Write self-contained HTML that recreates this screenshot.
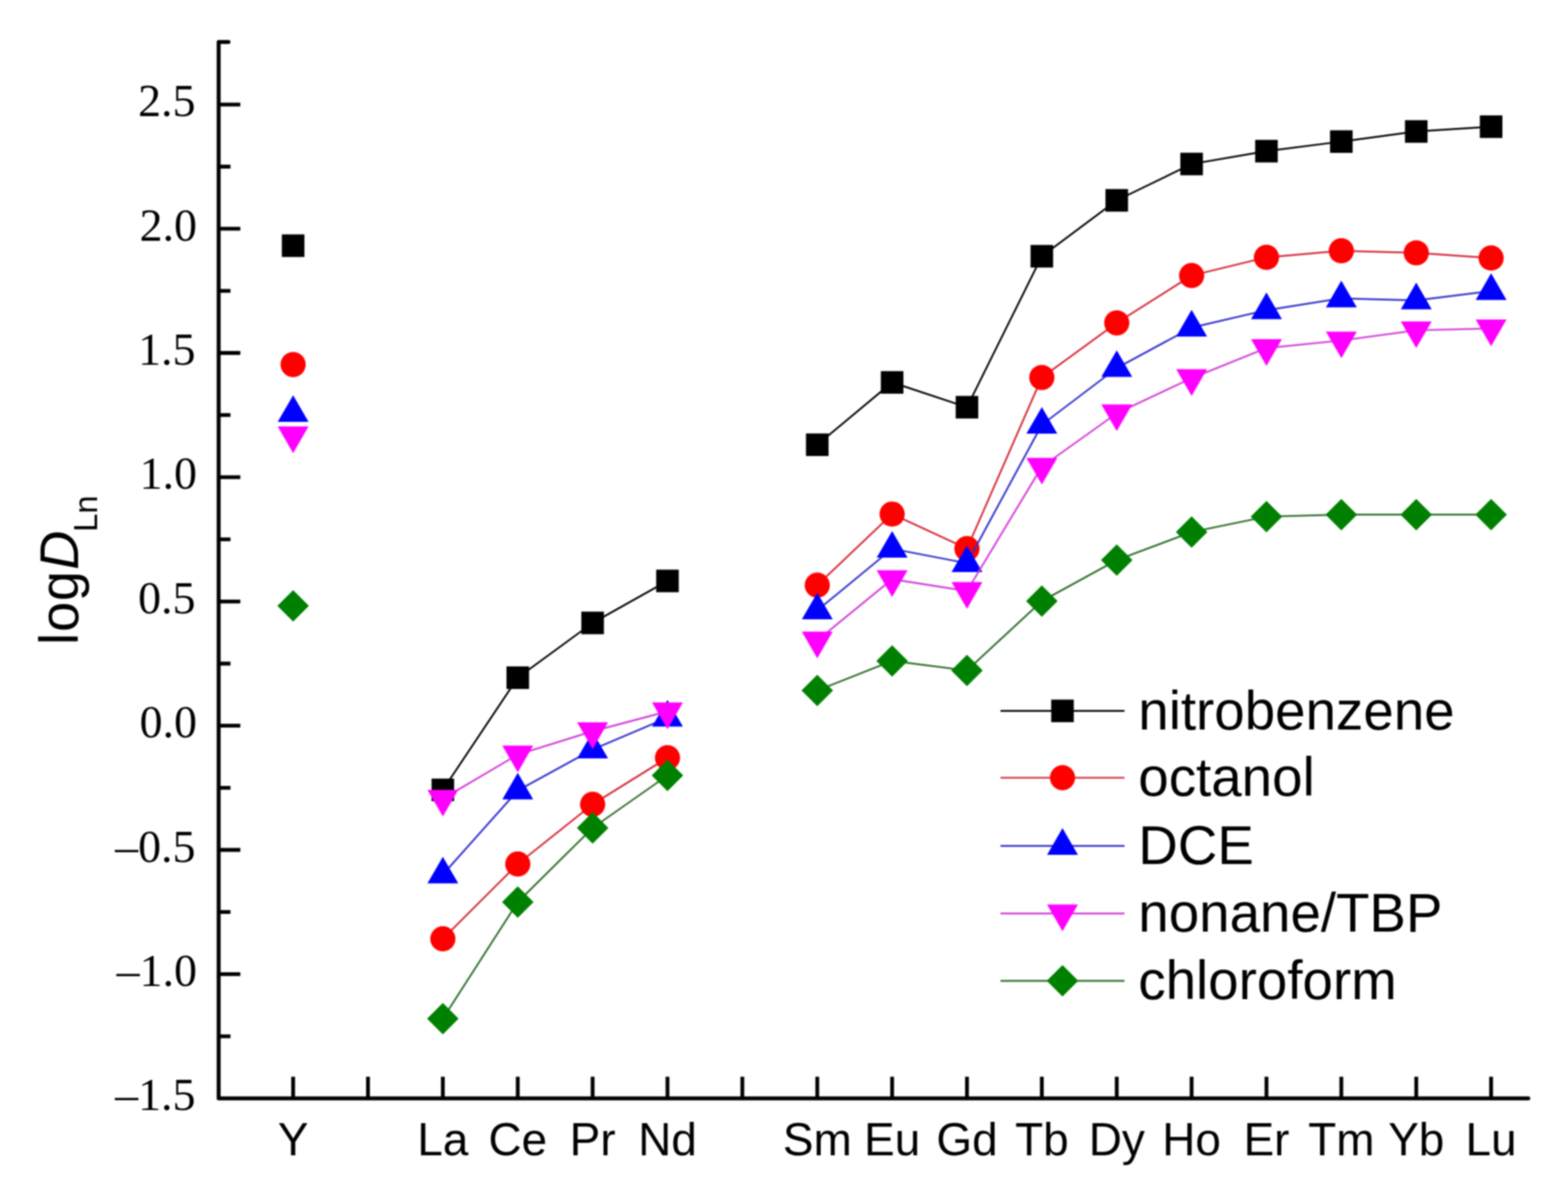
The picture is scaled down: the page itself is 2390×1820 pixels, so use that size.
<!DOCTYPE html>
<html><head><meta charset="utf-8"><title>logD Ln chart</title>
<style>html,body{margin:0;padding:0;background:#fff;}svg{display:block;filter:blur(1px);}</style>
</head><body>
<svg width="2390" height="1820" viewBox="0 0 2390 1820">
<rect width="2390" height="1820" fill="#fff"/>
<path d="M348.3,64 H333.3 V1674.3 H2329.5" fill="none" stroke="#000" stroke-width="6.0" stroke-linejoin="round" stroke-linecap="round"/>
<path d="M333.3,1579.6 h18 M333.3,1484.9 h33 M333.3,1390.2 h18 M333.3,1295.5 h33 M333.3,1200.9 h18 M333.3,1106.2 h33 M333.3,1011.5 h18 M333.3,916.8 h33 M333.3,822.1 h18 M333.3,727.4 h33 M333.3,632.7 h18 M333.3,538.0 h33 M333.3,443.4 h18 M333.3,348.7 h33 M333.3,254.0 h18 M333.3,159.3 h33 M446.8,1674.3 v-33 M560.9,1674.3 v-33 M675.0,1674.3 v-33 M789.2,1674.3 v-33 M903.3,1674.3 v-33 M1017.4,1674.3 v-33 M1131.5,1674.3 v-33 M1245.7,1674.3 v-33 M1359.8,1674.3 v-33 M1473.9,1674.3 v-33 M1588.0,1674.3 v-33 M1702.2,1674.3 v-33 M1816.3,1674.3 v-33 M1930.4,1674.3 v-33 M2044.5,1674.3 v-33 M2158.7,1674.3 v-33 M2272.8,1674.3 v-33" fill="none" stroke="#000" stroke-width="5.8"/>
<g font-family="'Liberation Serif', serif" font-size="70" text-anchor="end" fill="#000"><text x="298.0" y="1692.3">&#8211;1.5</text><text x="300.3" y="1502.9">&#8211;1.0</text><text x="298.0" y="1313.5">&#8211;0.5</text><text x="300.3" y="1124.2">0.0</text><text x="298.0" y="934.8">0.5</text><text x="300.3" y="745.4">1.0</text><text x="298.0" y="556.0">1.5</text><text x="300.3" y="366.7">2.0</text><text x="298.0" y="177.3">2.5</text></g>
<g font-family="'Liberation Sans', sans-serif" font-size="70" text-anchor="middle" fill="#000"><text x="446.8" y="1760.5">Y</text><text x="675.0" y="1760.5">La</text><text x="789.2" y="1760.5">Ce</text><text x="903.3" y="1760.5">Pr</text><text x="1017.4" y="1760.5">Nd</text><text x="1245.7" y="1760.5">Sm</text><text x="1359.8" y="1760.5">Eu</text><text x="1473.9" y="1760.5">Gd</text><text x="1588.0" y="1760.5">Tb</text><text x="1702.2" y="1760.5">Dy</text><text x="1816.3" y="1760.5">Ho</text><text x="1930.4" y="1760.5">Er</text><text x="2044.5" y="1760.5">Tm</text><text x="2158.7" y="1760.5">Yb</text><text x="2272.8" y="1760.5">Lu</text></g>
<text transform="translate(119,983) rotate(-90)" font-family="'Liberation Sans', sans-serif" font-size="82.5" fill="#000">l<tspan dx="1.5">o</tspan><tspan dx="1">g</tspan><tspan dx="2" font-style="italic">D</tspan><tspan font-size="50" dx="-2" dy="29">Ln</tspan></text>
<polyline points="675.0,1204.0 789.2,1033.0 903.3,949.5 1017.4,885.5" fill="none" stroke="#000000" stroke-width="2.7" stroke-linejoin="round"/>
<polyline points="1245.7,677.9 1359.8,582.9 1473.9,620.7 1588.0,390.6 1702.2,305.4 1816.3,250.0 1930.4,230.4 2044.5,215.8 2158.7,200.4 2272.8,193.1" fill="none" stroke="#000000" stroke-width="2.7" stroke-linejoin="round"/>
<rect x="429.6" y="357.3" width="34.4" height="34.4" fill="#000000"/>
<rect x="657.8" y="1186.8" width="34.4" height="34.4" fill="#000000"/>
<rect x="772.0" y="1015.8" width="34.4" height="34.4" fill="#000000"/>
<rect x="886.1" y="932.3" width="34.4" height="34.4" fill="#000000"/>
<rect x="1000.2" y="868.3" width="34.4" height="34.4" fill="#000000"/>
<rect x="1228.5" y="660.7" width="34.4" height="34.4" fill="#000000"/>
<rect x="1342.6" y="565.7" width="34.4" height="34.4" fill="#000000"/>
<rect x="1456.7" y="603.5" width="34.4" height="34.4" fill="#000000"/>
<rect x="1570.8" y="373.4" width="34.4" height="34.4" fill="#000000"/>
<rect x="1685.0" y="288.2" width="34.4" height="34.4" fill="#000000"/>
<rect x="1799.1" y="232.8" width="34.4" height="34.4" fill="#000000"/>
<rect x="1913.2" y="213.2" width="34.4" height="34.4" fill="#000000"/>
<rect x="2027.3" y="198.6" width="34.4" height="34.4" fill="#000000"/>
<rect x="2141.5" y="183.2" width="34.4" height="34.4" fill="#000000"/>
<rect x="2255.6" y="175.9" width="34.4" height="34.4" fill="#000000"/>
<polyline points="675.0,1431.0 789.2,1317.0 903.3,1226.0 1017.4,1155.0" fill="none" stroke="#d52a3a" stroke-width="2.7" stroke-linejoin="round"/>
<polyline points="1245.7,892.0 1359.8,783.6 1473.9,836.3 1588.0,575.4 1702.2,492.2 1816.3,420.0 1930.4,392.3 2044.5,382.3 2158.7,385.4 2272.8,393.3" fill="none" stroke="#d52a3a" stroke-width="2.7" stroke-linejoin="round"/>
<circle cx="446.8" cy="555.7" r="19.2" fill="#ff0000"/>
<circle cx="675.0" cy="1431.0" r="19.2" fill="#ff0000"/>
<circle cx="789.2" cy="1317.0" r="19.2" fill="#ff0000"/>
<circle cx="903.3" cy="1226.0" r="19.2" fill="#ff0000"/>
<circle cx="1017.4" cy="1155.0" r="19.2" fill="#ff0000"/>
<circle cx="1245.7" cy="892.0" r="19.2" fill="#ff0000"/>
<circle cx="1359.8" cy="783.6" r="19.2" fill="#ff0000"/>
<circle cx="1473.9" cy="836.3" r="19.2" fill="#ff0000"/>
<circle cx="1588.0" cy="575.4" r="19.2" fill="#ff0000"/>
<circle cx="1702.2" cy="492.2" r="19.2" fill="#ff0000"/>
<circle cx="1816.3" cy="420.0" r="19.2" fill="#ff0000"/>
<circle cx="1930.4" cy="392.3" r="19.2" fill="#ff0000"/>
<circle cx="2044.5" cy="382.3" r="19.2" fill="#ff0000"/>
<circle cx="2158.7" cy="385.4" r="19.2" fill="#ff0000"/>
<circle cx="2272.8" cy="393.3" r="19.2" fill="#ff0000"/>
<polyline points="675.0,1333.0 789.2,1205.0 903.3,1142.5 1017.4,1094.0" fill="none" stroke="#3232cc" stroke-width="2.7" stroke-linejoin="round"/>
<polyline points="1245.7,930.5 1359.8,836.5 1473.9,858.5 1588.0,647.5 1702.2,561.0 1816.3,499.4 1930.4,472.8 2044.5,454.8 2158.7,457.8 2272.8,443.6" fill="none" stroke="#3232cc" stroke-width="2.7" stroke-linejoin="round"/>
<polygon points="446.8,602.4 470.3,643.1 423.3,643.1" fill="#0000ff"/>
<polygon points="675.0,1305.9 698.5,1346.6 651.5,1346.6" fill="#0000ff"/>
<polygon points="789.2,1177.9 812.7,1218.6 765.7,1218.6" fill="#0000ff"/>
<polygon points="903.3,1115.4 926.8,1156.1 879.8,1156.1" fill="#0000ff"/>
<polygon points="1017.4,1066.9 1040.9,1107.6 993.9,1107.6" fill="#0000ff"/>
<polygon points="1245.7,903.4 1269.2,944.1 1222.2,944.1" fill="#0000ff"/>
<polygon points="1359.8,809.4 1383.3,850.1 1336.3,850.1" fill="#0000ff"/>
<polygon points="1473.9,831.4 1497.4,872.1 1450.4,872.1" fill="#0000ff"/>
<polygon points="1588.0,620.4 1611.5,661.1 1564.5,661.1" fill="#0000ff"/>
<polygon points="1702.2,533.9 1725.7,574.6 1678.7,574.6" fill="#0000ff"/>
<polygon points="1816.3,472.3 1839.8,513.0 1792.8,513.0" fill="#0000ff"/>
<polygon points="1930.4,445.7 1953.9,486.4 1906.9,486.4" fill="#0000ff"/>
<polygon points="2044.5,427.7 2068.1,468.4 2021.0,468.4" fill="#0000ff"/>
<polygon points="2158.7,430.7 2182.2,471.4 2135.2,471.4" fill="#0000ff"/>
<polygon points="2272.8,416.5 2296.3,457.2 2249.3,457.2" fill="#0000ff"/>
<polyline points="675.0,1217.5 789.2,1150.2 903.3,1114.6 1017.4,1084.4" fill="none" stroke="#d23cd8" stroke-width="2.7" stroke-linejoin="round"/>
<polyline points="1245.7,976.3 1359.8,882.9 1473.9,900.9 1588.0,711.5 1702.2,630.0 1816.3,576.4 1930.4,530.6 2044.5,519.0 2158.7,503.5 2272.8,500.6" fill="none" stroke="#d23cd8" stroke-width="2.7" stroke-linejoin="round"/>
<polygon points="446.8,690.8 470.3,650.1 423.3,650.1" fill="#ff00ff"/>
<polygon points="675.0,1244.6 698.5,1203.9 651.5,1203.9" fill="#ff00ff"/>
<polygon points="789.2,1177.3 812.7,1136.6 765.7,1136.6" fill="#ff00ff"/>
<polygon points="903.3,1141.7 926.8,1101.0 879.8,1101.0" fill="#ff00ff"/>
<polygon points="1017.4,1111.5 1040.9,1070.8 993.9,1070.8" fill="#ff00ff"/>
<polygon points="1245.7,1003.4 1269.2,962.7 1222.2,962.7" fill="#ff00ff"/>
<polygon points="1359.8,910.0 1383.3,869.3 1336.3,869.3" fill="#ff00ff"/>
<polygon points="1473.9,928.0 1497.4,887.3 1450.4,887.3" fill="#ff00ff"/>
<polygon points="1588.0,738.6 1611.5,697.9 1564.5,697.9" fill="#ff00ff"/>
<polygon points="1702.2,657.1 1725.7,616.4 1678.7,616.4" fill="#ff00ff"/>
<polygon points="1816.3,603.5 1839.8,562.8 1792.8,562.8" fill="#ff00ff"/>
<polygon points="1930.4,557.7 1953.9,517.0 1906.9,517.0" fill="#ff00ff"/>
<polygon points="2044.5,546.1 2068.1,505.4 2021.0,505.4" fill="#ff00ff"/>
<polygon points="2158.7,530.6 2182.2,489.9 2135.2,489.9" fill="#ff00ff"/>
<polygon points="2272.8,527.7 2296.3,487.0 2249.3,487.0" fill="#ff00ff"/>
<polyline points="675.0,1552.7 789.2,1375.0 903.3,1262.0 1017.4,1182.0" fill="none" stroke="#2a6e2a" stroke-width="2.7" stroke-linejoin="round"/>
<polyline points="1245.7,1052.5 1359.8,1007.4 1473.9,1022.0 1588.0,916.3 1702.2,853.8 1816.3,811.0 1930.4,787.5 2044.5,784.4 2158.7,784.4 2272.8,784.4" fill="none" stroke="#2a6e2a" stroke-width="2.7" stroke-linejoin="round"/>
<polygon points="446.8,899.6 470.8,923.6 446.8,947.6 422.8,923.6" fill="#008000"/>
<polygon points="675.0,1528.7 699.0,1552.7 675.0,1576.7 651.0,1552.7" fill="#008000"/>
<polygon points="789.2,1351.0 813.2,1375.0 789.2,1399.0 765.2,1375.0" fill="#008000"/>
<polygon points="903.3,1238.0 927.3,1262.0 903.3,1286.0 879.3,1262.0" fill="#008000"/>
<polygon points="1017.4,1158.0 1041.4,1182.0 1017.4,1206.0 993.4,1182.0" fill="#008000"/>
<polygon points="1245.7,1028.5 1269.7,1052.5 1245.7,1076.5 1221.7,1052.5" fill="#008000"/>
<polygon points="1359.8,983.4 1383.8,1007.4 1359.8,1031.4 1335.8,1007.4" fill="#008000"/>
<polygon points="1473.9,998.0 1497.9,1022.0 1473.9,1046.0 1449.9,1022.0" fill="#008000"/>
<polygon points="1588.0,892.3 1612.0,916.3 1588.0,940.3 1564.0,916.3" fill="#008000"/>
<polygon points="1702.2,829.8 1726.2,853.8 1702.2,877.8 1678.2,853.8" fill="#008000"/>
<polygon points="1816.3,787.0 1840.3,811.0 1816.3,835.0 1792.3,811.0" fill="#008000"/>
<polygon points="1930.4,763.5 1954.4,787.5 1930.4,811.5 1906.4,787.5" fill="#008000"/>
<polygon points="2044.5,760.4 2068.6,784.4 2044.5,808.4 2020.5,784.4" fill="#008000"/>
<polygon points="2158.7,760.4 2182.7,784.4 2158.7,808.4 2134.7,784.4" fill="#008000"/>
<polygon points="2272.8,760.4 2296.8,784.4 2272.8,808.4 2248.8,784.4" fill="#008000"/>
<line x1="1525" y1="1083.6" x2="1714" y2="1083.6" stroke="#000000" stroke-width="2.7"/>
<rect x="1602.3" y="1066.4" width="34.4" height="34.4" fill="#000000"/>
<text x="1735" y="1111.5" font-family="'Liberation Sans', sans-serif" font-size="83.4" fill="#000">nitrobenzene</text>
<line x1="1525" y1="1185.5" x2="1714" y2="1185.5" stroke="#d52a3a" stroke-width="2.7"/>
<circle cx="1619.5" cy="1185.5" r="19.2" fill="#ff0000"/>
<text x="1735" y="1213.4" font-family="'Liberation Sans', sans-serif" font-size="83.4" fill="#000">octanol</text>
<line x1="1525" y1="1289.4" x2="1714" y2="1289.4" stroke="#3232cc" stroke-width="2.7"/>
<polygon points="1619.5,1262.3 1643.0,1303.0 1596.0,1303.0" fill="#0000ff"/>
<text x="1735" y="1317.3" font-family="'Liberation Sans', sans-serif" font-size="83.4" fill="#000">DCE</text>
<line x1="1525" y1="1392.4" x2="1714" y2="1392.4" stroke="#d23cd8" stroke-width="2.7"/>
<polygon points="1619.5,1419.5 1643.0,1378.8 1596.0,1378.8" fill="#ff00ff"/>
<text x="1735" y="1420.3" font-family="'Liberation Sans', sans-serif" font-size="83.4" fill="#000">nonane/TBP</text>
<line x1="1525" y1="1495.1" x2="1714" y2="1495.1" stroke="#2a6e2a" stroke-width="2.7"/>
<polygon points="1619.5,1471.1 1643.5,1495.1 1619.5,1519.1 1595.5,1495.1" fill="#008000"/>
<text x="1735" y="1523.0" font-family="'Liberation Sans', sans-serif" font-size="83.4" fill="#000">chloroform</text>
</svg>
</body></html>
